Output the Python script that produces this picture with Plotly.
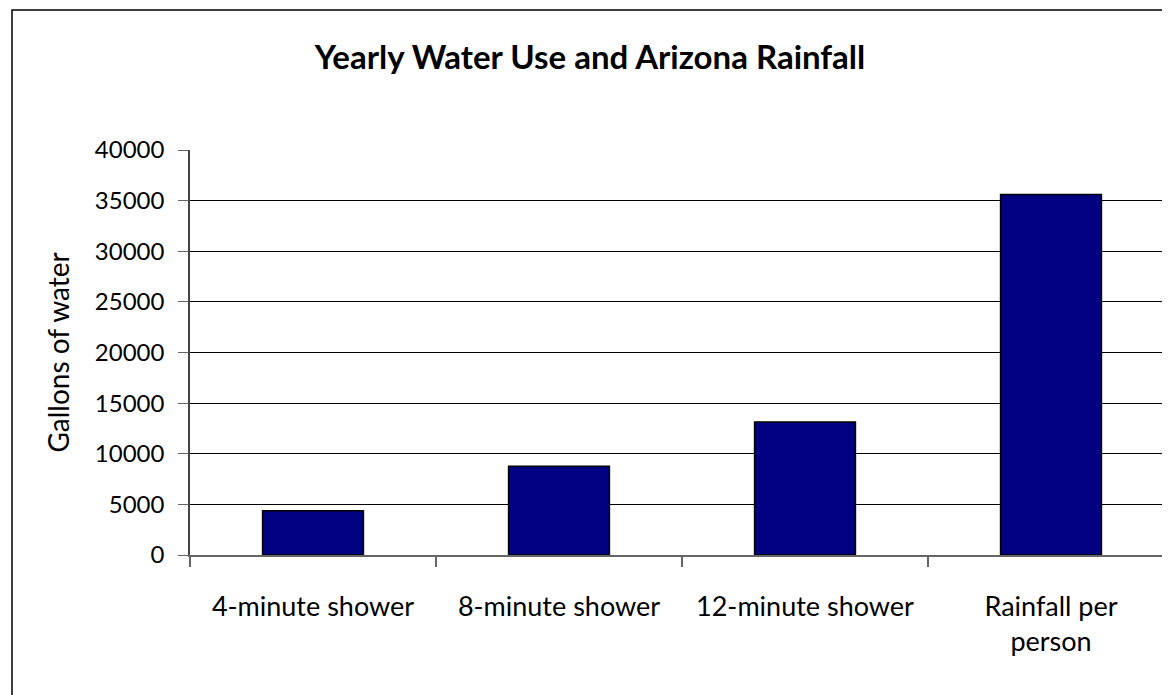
import plotly.graph_objects as go

categories = ["4-minute shower", "8-minute shower", "12-minute shower", "Rainfall per<br>person"]
gallons = [4380, 8760, 13140, 35600]
y_ticks = [0, 5000, 10000, 15000, 20000, 25000, 30000, 35000, 40000]

# page body has an 8px margin; all figure coordinates are screen minus 8
OFF = 8
W, H = 1170, 695
L = 190 - OFF
T = 150 - OFF
B = H - (555 - OFF)
R = OFF
plot_w = W - L - R
plot_h = H - T - B
unit = 246.0

fig = go.Figure()
fig.add_trace(go.Bar(
    x=categories, y=gallons, width=0.41,
    marker=dict(color="#000080", line=dict(color="#000000", width=1.5)),
))

font = "Lato, 'Open Sans', sans-serif"
fig.update_layout(
    width=W, height=H,
    margin=dict(l=L, r=R, t=T, b=B, autoexpand=False),
    paper_bgcolor="white", plot_bgcolor="white",
    showlegend=False,
    font=dict(family=font, size=24, color="black"),
    title=dict(text="<b>Yearly Water Use and Arizona Rainfall</b>",
               x=(590 - OFF) / W, xref="container", y=1 - (57 - OFF) / H, yref="container",
               xanchor="center", yanchor="middle",
               font=dict(family=font, size=33, color="black")),
    bargap=0.59,
)
fig.update_xaxes(
    type="category", range=[-0.5, -0.5 + plot_w / unit],
    showgrid=False, showline=True, linecolor="#666666", linewidth=1.5,
    ticks="outside", tickson="boundaries", ticklen=10, tickcolor="#666666",
    tickwidth=1.5, tickfont=dict(size=27, family=font), zeroline=False,
    ticklabelstandoff=27,
)
fig.update_yaxes(
    range=[0, 40000], tickvals=y_ticks, ticktext=[str(v) for v in y_ticks],
    showgrid=True, gridcolor="#000000", gridwidth=1,
    showline=True, linecolor="#444444", linewidth=1.5,
    ticks="outside", ticklen=10, tickcolor="#666666", tickwidth=1,
    tickfont=dict(size=24, family=font), zeroline=False,
    ticklabelstandoff=9,
    title=dict(text="Gallons of water", font=dict(size=28, family=font), standoff=17),
)
# outer chart border
fig.add_shape(type="rect", xref="paper", yref="paper",
              x0=(12 - OFF - L) / plot_w, x1=1.2,
              y0=-0.6, y1=(H - B - (10 - OFF)) / plot_h,
              line=dict(color="black", width=1.5), fillcolor="rgba(0,0,0,0)", layer="below")

fig.write_html("out.html")
